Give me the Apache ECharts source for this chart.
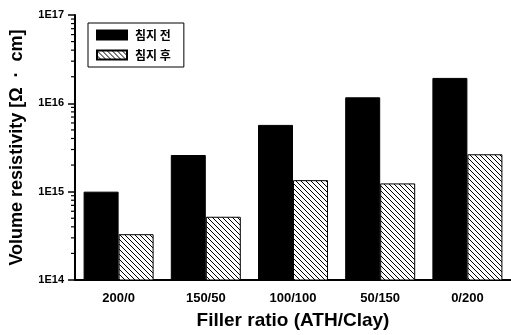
<!DOCTYPE html>
<html><head><meta charset="utf-8">
<script src="https://cdn.jsdelivr.net/npm/echarts@6/dist/echarts.min.js"></script>
<style>html,body{margin:0;padding:0;background:#fff}#c{width:511px;height:335px}</style>
</head><body><div id="c"></div>
<script>
const categories = ['200/0','150/50','100/100','50/150','0/200'];
const before = [1.0e15, 2.6e15, 5.7e15, 1.17e16, 1.94e16];
const after = [3.3e14, 5.2e14, 1.35e15, 1.24e15, 2.65e15];
const seriesNames = ['침지 전','침지 후'];
const minorTicks = [];
[1e14,1e15,1e16].forEach(d=>{for(let k=2;k<=9;k++) minorTicks.push(k*d);});

function hatch(){
  const s=5, c=document.createElement('canvas'); c.width=s; c.height=s;
  const g=c.getContext('2d'); g.fillStyle='#fff'; g.fillRect(0,0,s,s);
  g.strokeStyle='#000'; g.lineWidth=1;
  g.beginPath(); g.moveTo(-1,-1); g.lineTo(s+1,s+1); g.moveTo(-1,s-1); g.lineTo(1,s+1); g.moveTo(s-1,-1); g.lineTo(s+1,1); g.stroke();
  return c;
}
const pat = {image: hatch(), repeat:'repeat'};
const chart = echarts.init(document.getElementById('c'), null, {renderer:'canvas'});
const font = 'Liberation Sans, Arial, sans-serif';
chart.setOption({
  animation:false,
  grid:{left:75,right:0,top:15,bottom:54,containLabel:false},
  legend:{
    left:88, top:23, orient:'vertical', itemWidth:30, itemHeight:9, itemGap:8, icon:'rect',
    borderColor:'#000', borderWidth:1, padding:[6,13,6,8],
    textStyle:{fontFamily:'Noto Sans CJK KR', fontWeight:'bold', fontSize:12, color:'#000', padding:[0,0,0,3]},
    data:seriesNames
  },
  xAxis:{
    type:'category', data:categories,
    axisLine:{lineStyle:{color:'#000',width:2}},
    axisTick:{alignWithLabel:true,length:5,lineStyle:{color:'#000',width:1.5}},
    axisLabel:{margin:12,color:'#000',fontFamily:font,fontWeight:'bold',fontSize:13},
    name:'Filler ratio (ATH/Clay)', nameLocation:'middle', nameGap:31,
    nameTextStyle:{color:'#000',fontFamily:font,fontWeight:'bold',fontSize:19}
  },
  yAxis:{
    type:'log', min:1e14, max:1e17, logBase:10,
    axisLine:{show:true,lineStyle:{color:'#000',width:2}},
    axisTick:{show:true,length:7,lineStyle:{color:'#000',width:1.5}},
    splitLine:{show:false},
    axisLabel:{margin:11,color:'#000',fontFamily:font,fontWeight:'bold',fontSize:11,
      formatter:v=>'1E'+Math.round(Math.log10(v))},
    name:'Volume resistivity [Ω  ·  cm]', nameLocation:'middle', nameGap:49,
    nameTextStyle:{color:'#000',fontFamily:font,fontWeight:'bold',fontSize:18}
  },
  series:[{
    name:seriesNames[0], type:'bar', data:before, barWidth:35, barGap:'0%',
    itemStyle:{color:'#000',borderColor:'#000',borderWidth:1}
  },{
    name:seriesNames[1], type:'bar', data:after, barWidth:35,
    itemStyle:{color:pat,borderColor:'#000',borderWidth:1}
  },{
    name:'minor', type:'custom', silent:true, clip:false, z:10,
    data:minorTicks.map(v=>[0,v]), encode:{x:0,y:1},
    renderItem:function(params, api){
      const p = api.coord([0, api.value(1)]);
      const x0 = params.coordSys.x;
      return {type:'line', shape:{x1:x0-4,y1:p[1],x2:x0,y2:p[1]}, style:{stroke:'#000',lineWidth:1.2}};
    }
  }]
});
</script></body></html>
